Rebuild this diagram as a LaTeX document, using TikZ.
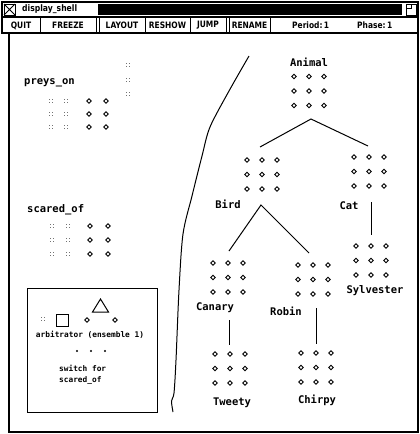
\documentclass[tikz,border=0pt]{standalone}
\usepackage{fontspec}
\usetikzlibrary{shapes.geometric}
\newfontfamily\labelfont{DejaVu Sans Mono}
\newfontfamily\uifont[FakeStretch=0.85]{DejaVu Sans}

\tikzset{
  unit/.style={diamond, draw, line width=0.95pt, inner sep=0pt, minimum size=5pt},
  faint/.style={rectangle, inner sep=0pt, minimum size=3.6pt,
    path picture={
      \fill[black!55] (path picture bounding box.north west) rectangle +(1.2pt,-1.2pt);
      \fill[black!55] (path picture bounding box.north east) rectangle +(-1.2pt,-1.2pt);
      \fill[black!55] (path picture bounding box.south west) rectangle +(1.2pt,1.2pt);
      \fill[black!55] (path picture bounding box.south east) rectangle +(-1.2pt,1.2pt);
    }},
  lbl/.style={font=\labelfont\bfseries\fontsize{10.5}{12}\selectfont, inner sep=0pt},
  small/.style={font=\labelfont\bfseries\fontsize{7.8}{9.5}\selectfont, inner sep=0pt},
  btn/.style={font=\uifont\bfseries\fontsize{8.8}{10}\selectfont, inner sep=0pt},
  link/.style={line width=1pt},
  frame/.style={line width=1.2pt},
}

% 3x3 block of units; #1 name, #2 x of first column, #3 y of first row
\newcommand{\unitgrid}[3]{%
  \foreach \i in {0,1,2}{\foreach \j in {0,1,2}{
    \node[unit] (#1-\j-\i) at ({#2+15*\i},{#3+14.5*\j}) {};}}}

\begin{document}
\begin{tikzpicture}[x=1pt,y=-1pt]
\useasboundingbox (0,0) rectangle (420,434);

% ---- title bar ----
\draw[frame] (2,2) rectangle (418,17);
\draw[line width=0.8pt] (4,4) rectangle (15,15);
\draw[line width=0.8pt] (4,4) -- (15,15) (4,15) -- (15,4);
\node[btn, anchor=west, font=\uifont\bfseries\fontsize{9}{10}\selectfont] (title) at (22,9.5) {display\_shell};
\fill (98,4) rectangle (402,15);
\draw[line width=0.8pt] (406,4) rectangle (416,15);
\draw[line width=0.8pt] (406,8) -- (411,8) -- (411,4);

% ---- button row ----
\draw[frame] (2,17) rectangle (418,33);
\foreach \x in {40,145,190} \draw[line width=1pt] (\x,17) -- (\x,33);
\foreach \x in {96,99,226,229} \draw[line width=0.9pt] (\x,17) -- (\x,33);
\draw[line width=1pt] (270,17) -- (270,33);
\node[btn] (quit)   at (21,25.5)  {QUIT};
\node[btn] (freeze) at (68,25.5)  {FREEZE};
\node[btn] (layout) at (122,25.5) {LAYOUT};
\node[btn] (reshow) at (167.5,25.5) {RESHOW};
\node[btn] (jump)   at (208,25.5) {JUMP};
\node[btn] (rename) at (249.5,25.5) {RENAME};
\node[btn, anchor=west] (period) at (292,25.5) {Period:\,1};
\node[btn, anchor=west] (phase)  at (357,25.5) {Phase:\,1};

% ---- display area ----
\draw[frame] (9,33) -- (9,432) -- (418,432) -- (418,33);

% relation preys_on
\node[lbl, anchor=west] (preys) at (24,83) {preys\_on};
\foreach \r/\y in {1/101,2/114,3/127}{
  \node[faint] (po-\r-a) at (51,\y) {};
  \node[faint] (po-\r-b) at (66,\y) {};
  \node[unit]  (po-\r-c) at (89,\y) {};
  \node[unit]  (po-\r-d) at (106,\y) {};
}
\foreach \r/\y in {1/65,2/80,3/94} \node[faint] (po-side-\r) at (128,\y) {};

% relation scared_of
\node[lbl, anchor=west] (scared) at (27,210) {scared\_of};
\foreach \r/\y in {1/226,2/240,3/254}{
  \node[faint] (so-\r-a) at (52,\y) {};
  \node[faint] (so-\r-b) at (68,\y) {};
  \node[unit]  (so-\r-c) at (90,\y) {};
  \node[unit]  (so-\r-d) at (108,\y) {};
}

% arbitrator panel
\draw[line width=1pt] (27,288) rectangle (157,412);
\draw[line width=1pt] (92.5,312) -- (100.5,299) -- (108.5,312) -- cycle;
\node[draw, line width=1pt, minimum size=12pt, inner sep=0pt] (arbsq) at (62,320) {};
\node[faint] (arbin) at (43,319) {};
\node[unit] (arbu1) at (87,320) {};
\node[unit] (arbu2) at (115,320) {};
\node[small] (arblbl) at (90,335) {arbitrator (ensemble 1)};
\foreach \k/\x in {1/77,2/91,3/105} \fill (\x,351) circle (1.1pt);
\node[small, align=left, anchor=north west, font=\labelfont\bfseries\fontsize{7.8}{11}\selectfont] (sw) at (59,365) {switch for\\scared\_of};

% divider curve
\draw[line width=1pt] plot[smooth, tension=0.5] coordinates {
  (249,56) (229,91) (210,127) (202,156) (192,196) (183,234) (179,290)
  (176,360) (174,393) (171.5,401) (173,412)};

% ---- is-a hierarchy ----
\node[lbl] (animal) at (309,62) {Animal};
\unitgrid{an}{294}{76.5}
\node[lbl] (bird) at (228,204) {Bird};
\unitgrid{bi}{247}{160}
\node[lbl] (cat) at (349,206) {Cat};
\unitgrid{ca}{354}{157}
\node[lbl] (canary) at (215,308) {Canary};
\unitgrid{cn}{213}{263}
\node[lbl] (robin) at (286,311) {Robin};
\unitgrid{ro}{298}{265}
\node[lbl] (sylvester) at (375,291) {Sylvester};
\unitgrid{sy}{356}{246}
\node[lbl] (tweety) at (232,403) {Tweety};
\unitgrid{tw}{215}{354}
\node[lbl] (chirpy) at (317,400) {Chirpy};
\unitgrid{ch}{301}{353}

\coordinate (an-apex) at (311,119);
\coordinate (bi-top) at (260,147);
\coordinate (ca-top) at (368,146);
\coordinate (bi-apex) at (261,205);
\coordinate (cn-top) at (229,251);
\coordinate (ro-top) at (309,253);
\coordinate (ca-stem) at (371,202);
\coordinate (sy-top) at (371,235);
\coordinate (cn-stem) at (229,320);
\coordinate (tw-top) at (229,345);
\coordinate (ro-stem) at (316,308);
\coordinate (ch-top) at (316,344);

\draw[link] (bi-top) -- (an-apex) -- (ca-top);
\draw[link] (cn-top) -- (bi-apex) -- (ro-top);
\draw[link] (ca-stem) -- (sy-top);
\draw[link] (cn-stem) -- (tw-top);
\draw[link] (ro-stem) -- (ch-top);
\end{tikzpicture}
\end{document}
